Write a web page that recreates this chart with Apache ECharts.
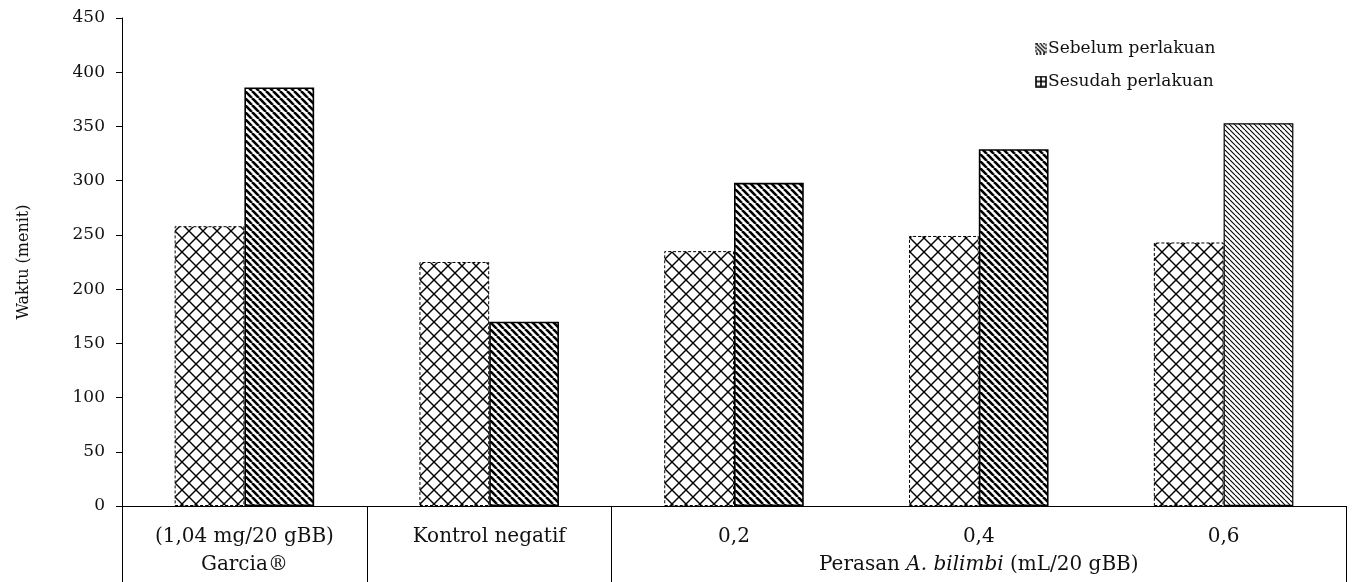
<!DOCTYPE html>
<html>
<head>
<meta charset="utf-8">
<script src="https://cdn.jsdelivr.net/npm/echarts@6/dist/echarts.min.js"></script>
<style>
html,body{margin:0;padding:0;background:#fff;}
#chart{width:1352px;height:582px;}
</style>
</head>
<body>
<div id="chart"></div>
<script>
// ---- data ----
var categories = ['(1,04 mg/20 gBB)\nGarcia®', 'Kontrol negatif', '0,2', '0,4', '0,6'];
var groupLabelPrefix = 'Perasan ';
var groupLabelItalic = 'A. bilimbi';
var groupLabelSuffix = ' (mL/20 gBB)';
var seriesNames = ['Sebelum perlakuan', 'Sesudah perlakuan'];
var sebelum = [258, 225, 235, 249, 243];
var sesudah = [386, 170, 298, 329, 353];
var yTicks = [0, 50, 100, 150, 200, 250, 300, 350, 400, 450];
var yName = 'Waktu (menit)';

// ---- patterns ----
function makeCanvas(w, h) { var c = document.createElement('canvas'); c.width = w; c.height = h; return c; }
function diamondPattern() {
  var s = 14, c = makeCanvas(s, s), g = c.getContext('2d');
  g.fillStyle = '#fff'; g.fillRect(0, 0, s, s);
  g.strokeStyle = '#000'; g.lineWidth = 1.4;
  for (var k = -1; k <= 1; k++) {
    g.beginPath(); g.moveTo(k * s, 0); g.lineTo(k * s + s, s); g.stroke();
    g.beginPath(); g.moveTo(k * s + s, 0); g.lineTo(k * s, s); g.stroke();
  }
  return c;
}
function stripePattern(s, lw) {
  var c = makeCanvas(s, s), g = c.getContext('2d');
  g.fillStyle = '#fff'; g.fillRect(0, 0, s, s);
  g.strokeStyle = '#000'; g.lineWidth = lw;
  for (var k = -1; k <= 1; k++) {
    g.beginPath(); g.moveTo(k * s, 0); g.lineTo(k * s + s, s); g.stroke();
  }
  return c;
}
function iconSebelum() {
  var c = makeCanvas(12, 12), g = c.getContext('2d');
  g.fillStyle = '#fff'; g.fillRect(0, 0, 12, 12);
  g.strokeStyle = '#000'; g.lineWidth = 1.4;
  g.setLineDash([2, 1.5]); g.strokeRect(1, 1, 10, 10);
  g.setLineDash([]); g.lineWidth = 1.2;
  g.beginPath(); g.moveTo(2, 2); g.lineTo(10, 10); g.stroke();
  g.beginPath(); g.moveTo(6, 2); g.lineTo(10, 6); g.stroke();
  g.beginPath(); g.moveTo(2, 6); g.lineTo(6, 10); g.stroke();
  return 'image://' + c.toDataURL();
}
function iconSesudah() {
  var c = makeCanvas(12, 12), g = c.getContext('2d');
  g.fillStyle = '#fff'; g.fillRect(0, 0, 12, 12);
  g.strokeStyle = '#000'; g.lineWidth = 1.6;
  g.strokeRect(1, 1, 10, 10);
  g.beginPath(); g.moveTo(6, 1); g.lineTo(6, 11); g.stroke();
  g.beginPath(); g.moveTo(1, 6); g.lineTo(11, 6); g.stroke();
  return 'image://' + c.toDataURL();
}

var patDiamond = { image: diamondPattern(), repeat: 'repeat' };
var patThick = { image: stripePattern(7, 2.6), repeat: 'repeat' };
var patThin = { image: stripePattern(5, 1.1), repeat: 'repeat' };

var FONT = 'DejaVu Serif';

var sesudahData = sesudah.map(function (v, i) {
  if (i === sesudah.length - 1) {
    return { value: v, itemStyle: { color: patThin, borderColor: '#000', borderWidth: 1.2 } };
  }
  return v;
});

var chart = echarts.init(document.getElementById('chart'), null, { renderer: 'canvas' });
chart.setOption({
  backgroundColor: '#fff',
  animation: false,
  legend: {
    orient: 'vertical',
    left: 1030,
    top: 35,
    itemWidth: 12,
    itemHeight: 12,
    itemGap: 16,
    textStyle: { fontFamily: FONT, fontSize: 17, color: '#111', padding: [0, 0, 0, -4] },
    data: [
      { name: seriesNames[0], icon: iconSebelum() },
      { name: seriesNames[1], icon: iconSesudah() }
    ]
  },
  grid: { left: 122, right: 6, top: 18, bottom: 76, outerBoundsMode: 'none' },
  xAxis: {
    type: 'category',
    data: categories,
    axisLine: { lineStyle: { color: '#000', width: 1 } },
    axisTick: {
      show: true,
      length: 76,
      interval: function (idx) { return idx <= 2; },
      lineStyle: { color: '#000', width: 1 }
    },
    axisLabel: {
      interval: 0,
      margin: 17,
      color: '#111',
      fontFamily: FONT,
      fontSize: 20,
      lineHeight: 28,
      formatter: function (val, idx) {
        if (idx === 3) {
          return '{n|' + val + '}\n{n|' + groupLabelPrefix + '}{i|' + groupLabelItalic + '}{n|' + groupLabelSuffix + '}';
        }
        return val.split('\n').map(function (s) { return '{n|' + s + '}'; }).join('\n');
      },
      rich: {
        n: { fontFamily: FONT, fontSize: 20, lineHeight: 28, color: '#111' },
        i: { fontFamily: FONT, fontSize: 20, lineHeight: 28, color: '#111', fontStyle: 'italic' }
      }
    }
  },
  yAxis: {
    type: 'value',
    min: 0,
    max: 450,
    interval: 50,
    name: yName,
    nameLocation: 'middle',
    nameGap: 90,
    nameTextStyle: { fontFamily: FONT, fontSize: 16, color: '#111' },
    axisLine: { show: true, lineStyle: { color: '#000', width: 1 } },
    axisTick: { show: true, length: 6, lineStyle: { color: '#000' } },
    splitLine: { show: false },
    axisLabel: {
      margin: 17,
      color: '#111',
      fontFamily: FONT,
      fontSize: 17,
      formatter: function (v) { return yTicks.indexOf(v) >= 0 ? String(v) : ''; }
    }
  },
  series: [
    {
      name: seriesNames[0],
      type: 'bar',
      data: sebelum,
      barGap: '0%',
      barCategoryGap: '43%',
      itemStyle: { color: patDiamond, borderColor: '#000', borderWidth: 1, borderType: [3, 2] }
    },
    {
      name: seriesNames[1],
      type: 'bar',
      data: sesudahData,
      barGap: '0%',
      barCategoryGap: '43%',
      itemStyle: { color: patThick, borderColor: '#000', borderWidth: 1.6 }
    }
  ]
});
</script>
</body>
</html>
